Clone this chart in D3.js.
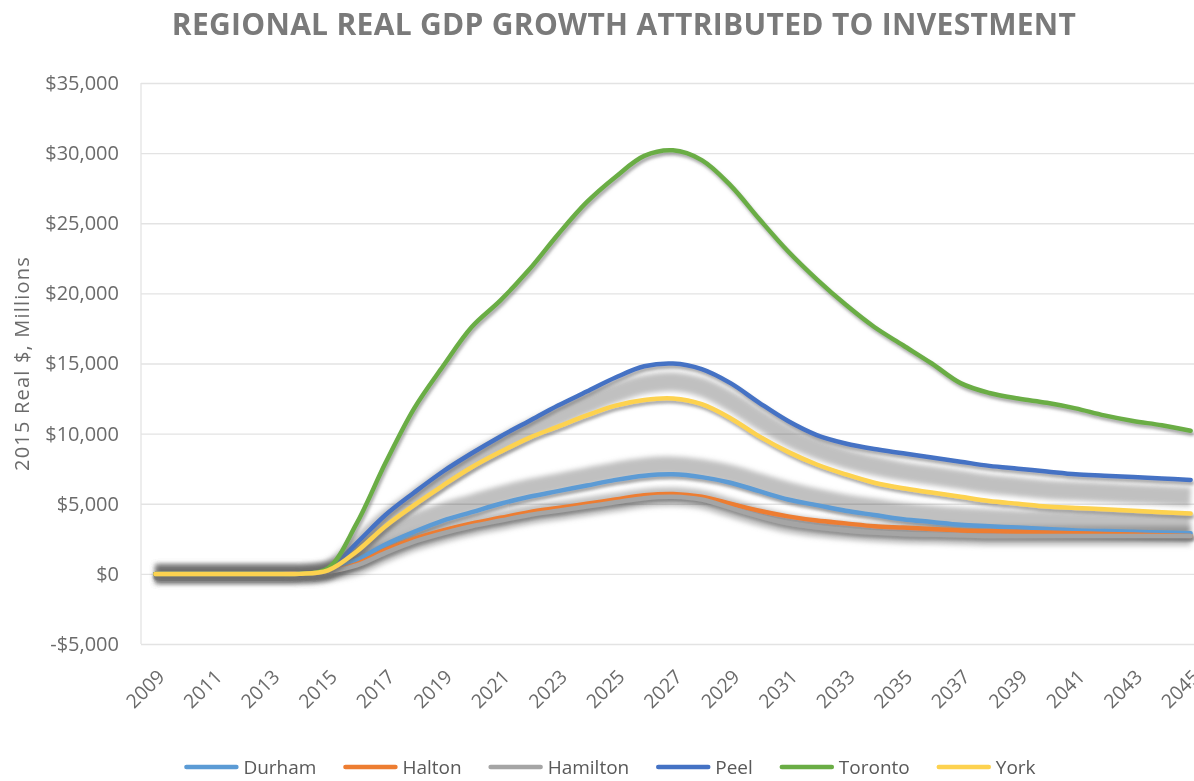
<!doctype html>
<html lang="en">
<head>
<meta charset="UTF-8">
<title>Regional Real GDP Growth Attributed to Investment</title>
<style>
  body { margin: 0; background: #fff; }
  svg text { font-family: "Open Sans", "DejaVu Sans", sans-serif; }
</style>
</head>
<body>
<div class="container"></div>

<script src="https://d3js.org/d3.v7.min.js"></script>
<script>
  const SVG_WIDTH = 1194;
  const SVG_HEIGHT = 781;

  // data, $ millions (2015 real)
  const years = [2009, 2010, 2011, 2012, 2013, 2014, 2015, 2016, 2017, 2018, 2019, 2020, 2021,
    2022, 2023, 2024, 2025, 2026, 2027, 2028, 2029, 2030, 2031, 2032, 2033, 2034, 2035,
    2036, 2037, 2038, 2039, 2040, 2041, 2042, 2043, 2044, 2045];
  const xTickYears = [2009, 2011, 2013, 2015, 2017, 2019, 2021, 2023, 2025, 2027, 2029,
    2031, 2033, 2035, 2037, 2039, 2041, 2043, 2045];
  const yTicks = [-5000, 0, 5000, 10000, 15000, 20000, 25000, 30000, 35000];

  const seriesNames = ['Durham', 'Halton', 'Hamilton', 'Peel', 'Toronto', 'York'];
  const seriesColors = ['#5b9bd5', '#ed7d31', '#a5a5a5', '#4472c4', '#6aad45', '#fdd24f'];

  const durham = [0, 0, 0, 0, 0, 0, 200,
    1000, 2100, 3000, 3800, 4400, 5000, 5500, 5900, 6300, 6700,
    7000, 7100, 6900, 6500, 5900, 5300, 4900, 4500, 4200, 3900,
    3700, 3500, 3400, 3300, 3200, 3100, 3050, 3000, 2950, 2900];
  const halton = [0, 0, 0, 0, 0, 0, 150,
    700, 1700, 2500, 3100, 3600, 4000, 4400, 4700, 5000, 5300,
    5600, 5700, 5500, 5000, 4500, 4100, 3800, 3600, 3400, 3300,
    3200, 3100, 3050, 3000, 2950, 2900, 2850, 2800, 2750, 2700];
  const hamilton = [0, 0, 0, 0, 0, 0, 150,
    600, 1500, 2300, 2900, 3400, 3800, 4200, 4500, 4800, 5100,
    5400, 5500, 5300, 4700, 4100, 3600, 3300, 3100, 2950, 2850,
    2800, 2750, 2700, 2700, 2700, 2700, 2700, 2700, 2700, 2700];
  const peel = [0, 0, 0, 0, 0, 0, 300,
    2200, 4200, 5800, 7300, 8600, 9800, 10900, 12000, 13000, 14000,
    14800, 15000, 14600, 13600, 12200, 10900, 9900, 9300, 8900, 8600,
    8300, 8000, 7700, 7500, 7300, 7100, 7000, 6900, 6800, 6700];
  const toronto = [0, 0, 0, 0, 0, 0, 400,
    3600, 7900, 11800, 14800, 17600, 19500, 21700, 24200, 26500, 28300,
    29800, 30200, 29500, 27700, 25300, 23000, 21000, 19200, 17600, 16300,
    15000, 13600, 12900, 12500, 12200, 11800, 11300, 10900, 10600, 10200];
  const york = [0, 0, 0, 0, 0, 0, 250,
    1600, 3400, 4900, 6300, 7600, 8700, 9700, 10500, 11300, 12000,
    12400, 12500, 12100, 11100, 9800, 8700, 7800, 7100, 6500, 6100,
    5800, 5500, 5200, 5000, 4800, 4700, 4600, 4500, 4400, 4300];

  // soft grey glow bands visible in the original (not in legend)
  const glowUpper = [0, 0, 0, 0, 0, 0, 250,
    1900, 3800, 5300, 6800, 8100, 9200, 10300, 11200, 12100, 12900,
    13500, 13700, 13300, 12300, 11000, 9800, 8900, 8200, 7700, 7300,
    7000, 6700, 6400, 6200, 6000, 5900, 5800, 5700, 5600, 5500];
  const glowLower = [0, 0, 0, 0, 0, 0, 200,
    1300, 2600, 3600, 4400, 5000, 5600, 6100, 6500, 6900, 7300,
    7600, 7700, 7500, 7100, 6500, 5900, 5400, 5000, 4700, 4400,
    4200, 4050, 3950, 3850, 3800, 3750, 3700, 3650, 3600, 3550];

  const seriesValues = [durham, halton, hamilton, peel, toronto, york];
  const glowValues = [glowUpper, glowLower, hamilton];

  const PLOT_LEFT = 141;
  const PLOT_RIGHT = 1205;
  const PLOT_TOP = 83;
  const PLOT_BOTTOM = 644;

  const svg = d3.select('.container')
    .append('svg')
    .attr('width', SVG_WIDTH)
    .attr('height', SVG_HEIGHT);

  const defs = svg.append('defs');
  const shadow = defs.append('filter').attr('id', 'shadow')
    .attr('x', '-5%').attr('y', '-20%').attr('width', '110%').attr('height', '140%');
  shadow.append('feDropShadow')
    .attr('dx', 1.5).attr('dy', 3).attr('stdDeviation', 1.8)
    .attr('flood-color', '#6f6f6f').attr('flood-opacity', 0.6);
  const blur = defs.append('filter').attr('id', 'blur')
    .attr('x', '-5%').attr('y', '-20%').attr('width', '110%').attr('height', '140%');
  blur.append('feGaussianBlur').attr('stdDeviation', 2.5);

  const x = d3.scalePoint()
    .domain(years)
    .range([PLOT_LEFT, PLOT_RIGHT])
    .padding(0.5);

  const y = d3.scaleLinear()
    .domain([-5000, 35000])
    .range([PLOT_BOTTOM, PLOT_TOP]);

  // title
  svg.append('text')
    .attr('x', 624)
    .attr('y', 35)
    .attr('text-anchor', 'middle')
    .style('font-size', '30px')
    .style('font-weight', 'bold')
    .style('letter-spacing', '0.3px')
    .attr('fill', '#7a7a7a')
    .text('REGIONAL REAL GDP GROWTH ATTRIBUTED TO INVESTMENT');

  // y gridlines + axis
  const yAxis = d3.axisLeft(y)
    .tickValues(yTicks)
    .tickSize(-(PLOT_RIGHT - PLOT_LEFT))
    .tickPadding(22)
    .tickFormat(d => (d < 0 ? '-$' : '$') + d3.format(',')(Math.abs(d)));

  const yAxisGroup = svg.append('g')
    .attr('transform', `translate(${PLOT_LEFT}, 0)`)
    .call(yAxis);
  yAxisGroup.select('.domain').remove();
  yAxisGroup.selectAll('line').attr('stroke', '#e3e3e3').attr('stroke-width', 1.3);
  yAxisGroup.selectAll('text')
    .attr('fill', '#6b6b6b')
    .style('font-size', '20px');

  svg.append('line')
    .attr('x1', PLOT_LEFT).attr('x2', PLOT_LEFT)
    .attr('y1', PLOT_TOP).attr('y2', PLOT_BOTTOM)
    .attr('stroke', '#e3e3e3').attr('stroke-width', 1.3);

  // x labels
  const xAxisGroup = svg.append('g')
    .attr('transform', `translate(0, ${PLOT_BOTTOM})`)
    .call(d3.axisBottom(x).tickValues(xTickYears).tickSize(0));
  xAxisGroup.select('.domain').remove();
  xAxisGroup.selectAll('text')
    .attr('fill', '#6b6b6b')
    .style('font-size', '19.5px')
    .attr('text-anchor', 'end')
    .attr('x', 0).attr('y', 0).attr('dy', 0)
    .attr('transform', 'translate(10, 34) rotate(-45)');

  // y axis title
  svg.append('text')
    .attr('transform', `translate(29, ${(PLOT_TOP + PLOT_BOTTOM) / 2}) rotate(-90)`)
    .attr('text-anchor', 'middle')
    .attr('fill', '#6b6b6b')
    .style('font-size', '20px')
    .style('letter-spacing', '1.2px')
    .text('2015 Real $, Millions');

  const line = d3.line()
    .x((d, i) => x(years[i]))
    .y(d => y(d))
    .curve(d3.curveCatmullRom.alpha(0.5));

  // glow bands
  svg.append('g')
    .selectAll('path')
    .data(glowValues)
    .join('path')
    .attr('d', d => line(d))
    .attr('fill', 'none')
    .attr('stroke', '#969696')
    .attr('stroke-opacity', 0.6)
    .attr('stroke-width', 19)
    .style('mix-blend-mode', 'multiply')
    .attr('filter', 'url(#blur)');

  // series lines
  svg.append('g')
    .selectAll('path')
    .data(seriesValues)
    .join('path')
    .attr('d', d => line(d))
    .attr('fill', 'none')
    .attr('stroke', (d, i) => seriesColors[i])
    .attr('stroke-width', 4.5)
    .attr('stroke-linecap', 'round')
    .attr('filter', 'url(#shadow)');

  // legend
  const legend = svg.append('g');
  let lx = 0;
  seriesNames.forEach((name, i) => {
    const item = legend.append('g').attr('transform', `translate(${lx}, 767)`);
    item.append('line')
      .attr('x1', 0).attr('x2', 50)
      .attr('stroke', seriesColors[i])
      .attr('stroke-width', 4.5)
      .attr('stroke-linecap', 'round');
    const t = item.append('text')
      .attr('x', 57)
      .attr('dy', '0.35em')
      .attr('fill', '#595959')
      .style('font-size', '19px')
      .text(name);
    lx += 57 + t.node().getComputedTextLength() + 29;
  });
  const legendWidth = lx - 29;
  legend.attr('transform', `translate(${611 - legendWidth / 2}, 0)`);
</script>
</body>
</html>
